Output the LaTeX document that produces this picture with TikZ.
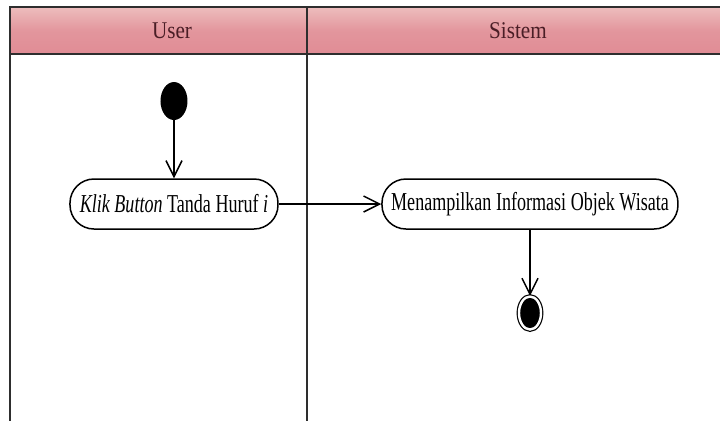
\documentclass[tikz,border=0pt]{standalone}
\usepackage{fontspec}
\setmainfont{Liberation Serif}
\newfontfamily\actfont[FakeStretch=0.7]{Liberation Serif}
\newfontfamily\titlefont[FakeStretch=0.88]{Liberation Serif}
\usetikzlibrary{arrows.meta,shapes.geometric}
\definecolor{laneTop}{HTML}{EDBDBD}
\definecolor{laneBot}{HTML}{E08C95}
\definecolor{laneText}{HTML}{4A1E26}
\definecolor{laneLine}{HTML}{2E2E2E}
\begin{document}
\begin{tikzpicture}[x=0.5pt, y=-0.5pt, >={Straight Barb[length=8pt,width=8pt]},
  lane/.style={draw=laneLine, line width=1pt},
  lanetitle/.style={text=laneText, font=\titlefont\fontsize{12}{14}\selectfont},
  activity/.style={draw, rectangle, rounded corners=12pt, line width=.75pt, minimum height=25pt, inner xsep=2pt, font=\actfont\fontsize{12.9}{15}\selectfont},
  startnode/.style={ellipse, fill=black, minimum width=13.5pt, minimum height=19pt, inner sep=0pt},
  endnode/.style={ellipse, fill=black, draw=black, double=white, double distance=1.2pt, line width=.6pt, minimum width=11pt, minimum height=16.5pt, inner sep=0pt},
  flow/.style={->, line width=.75pt}]
\useasboundingbox (0,0) rectangle (720,420);
% swimlane header
\shade[top color=laneTop, bottom color=laneBot, middle color=laneBot!80!laneTop] (10,7) rectangle (722,54);
\draw[lane] (722,7) -- (10,7) -- (10,422);
\draw[lane] (10,54) -- (722,54);
\draw[lane] (307,7) -- (307,422);
\node[lanetitle] (user) at (172,31) {User};
\node[lanetitle] (sistem) at (518,31) {Sistem};
% activities
\node[startnode] (start) at (174,101) {};
\node[activity, minimum width=104pt] (klik) at (174,204) {{\itshape Klik Button} Tanda Huruf {\itshape i}};
\node[activity, minimum width=148pt] (tampil) at (530,204) {Menampilkan Informasi Objek Wisata};
\node[endnode] (end) at (530,313) {};
\draw[flow] (start) -- (klik);
\draw[flow] (klik) -- (tampil);
\draw[flow] (tampil) -- (end);
\end{tikzpicture}
\end{document}
